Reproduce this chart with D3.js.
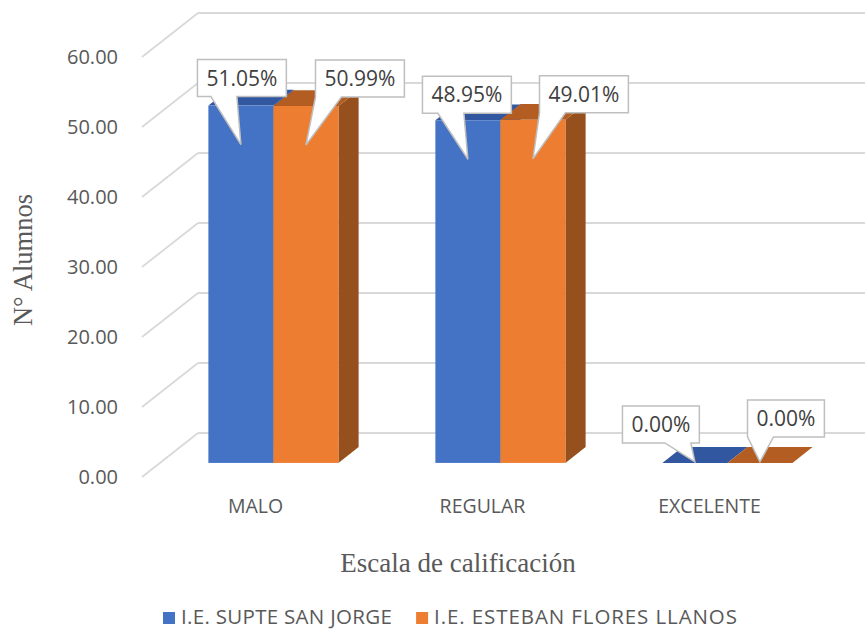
<!DOCTYPE html>
<html>
<head>
<meta charset="utf-8">
<script src="https://cdn.jsdelivr.net/npm/d3@7"></script>
<style>
  body { margin: 0; background: #fff; }
</style>
</head>
<body>
<script>
'use strict';

// chart data
const categories = ["MALO", "REGULAR", "EXCELENTE"];
const seriesNames = ["I.E. SUPTE SAN JORGE", "I.E. ESTEBAN FLORES LLANOS"];
const sanJorge = [51.05, 48.95, 0.00];
const floresLlanos = [50.99, 49.01, 0.00];
const yTicks = [0, 10, 20, 30, 40, 50, 60];

(function() {
  const width = 865, height = 630;
  const frontColor = ["#4472C4", "#ED7D31"];
  const topColor = ["#3157A0", "#B35D22"];
  const sideColor = ["#2E4F8C", "#96501D"];

  // 3d look: the back wall is shifted by this vector
  const DX = 56, DY = -44;
  const f0 = 0.32, f1 = 0.68;   // bar depth inside the floor

  const svg = d3.select("body").append("svg")
    .attr("width", width)
    .attr("height", height);

  svg.append("rect").attr("width", width).attr("height", height).attr("fill", "#fff");

  const y = d3.scaleLinear().domain([0, 60]).range([477, 57]);
  const x0 = d3.scaleBand().domain(categories).range([142, 823]);
  const groupW = x0.bandwidth() * 0.573;
  const x1 = d3.scaleBand().domain(d3.range(seriesNames.length)).range([0, groupW]);

  // gridlines (side wall + back wall)
  const grid = svg.append("g");
  yTicks.forEach(t => {
    grid.append("line")
      .attr("x1", 142).attr("y1", y(t))
      .attr("x2", 142 + DX).attr("y2", y(t) + DY)
      .attr("stroke", "#d9d9d9").attr("stroke-width", 1.8);
    grid.append("line")
      .attr("x1", 142 + DX).attr("y1", y(t) + DY)
      .attr("x2", width + 20).attr("y2", y(t) + DY)
      .attr("stroke", "#d9d9d9").attr("stroke-width", 1.8);
  });

  // y tick labels
  svg.append("g").selectAll("text")
    .data(yTicks)
    .enter().append("text")
      .attr("x", 118)
      .attr("y", d => y(d))
      .attr("dy", "0.36em")
      .attr("text-anchor", "end")
      .attr("font-family", "'Open Sans', sans-serif")
      .attr("font-size", "20px")
      .attr("fill", "#595959")
      .text(d => d3.format(".2f")(d));

  // bars
  const series = [sanJorge, floresLlanos];
  const pt = (px, py, f) => [px + DX * f, py + DY * f];
  const bars = svg.append("g");
  const tips = [];

  categories.forEach((c, ci) => {
    series.forEach((vals, si) => {
      const v = vals[ci];
      const xl = x0(c) + x0.bandwidth() / 2 - groupW / 2 + x1(si);
      const xr = xl + x1.bandwidth();
      const yt = y(v), yb = y(0);

      const side = [pt(xr, yt, f0), pt(xr, yb, f0), pt(xr, yb, f1), pt(xr, yt, f1)];
      const top = [pt(xl, yt, f0), pt(xr, yt, f0), pt(xr, yt, f1), pt(xl, yt, f1)];

      bars.append("polygon")
        .attr("points", side.map(p => p.join(",")).join(" "))
        .attr("fill", sideColor[si]);
      bars.append("polygon")
        .attr("points", top.map(p => p.join(",")).join(" "))
        .attr("fill", topColor[si]);
      const fl = pt(xl, yt, f0);
      bars.append("rect")
        .attr("x", fl[0])
        .attr("y", fl[1])
        .attr("width", xr - xl)
        .attr("height", yb - yt)
        .attr("fill", frontColor[si]);

      const cx = fl[0] + (xr - xl) / 2;
      const frontTop = fl[1];
      const frontBase = yb + DY * f0;
      tips.push({ci: ci, si: si, v: v, x: cx, y: Math.min(frontTop + 39, frontBase - 1)});
    });
  });

  // callout placement (box centre relative to tip, box bottom relative to tip)
  const calloutOffset = [
    [{dx: 1, dy: -48}, {dx: 54, dy: -48}],
    [{dx: -1, dy: -46}, {dx: 51, dy: -46}],
    [{dx: -34, dy: -19}, {dx: 26, dy: -25}]
  ];

  const labels = svg.append("g");
  tips.forEach(tp => {
    const off = calloutOffset[tp.ci][tp.si];
    const g = labels.append("g");
    const path = g.append("path");
    const txt = g.append("text")
      .attr("font-family", "'Open Sans', sans-serif")
      .attr("font-size", "21px")
      .attr("fill", "#404040")
      .attr("text-anchor", "middle")
      .text(d3.format(".2f")(tp.v) + "%");
    const tw = txt.node().getComputedTextLength();
    const bw = tw + 18, bh = 37;
    const cx = tp.x + off.dx;
    const bottom = tp.y + off.dy;
    const left = cx - bw / 2, right = cx + bw / 2, topY = bottom - bh;
    const baseW = 26;
    let bl = Math.max(left, Math.min(tp.x - baseW - 4, right - baseW));
    const br = bl + baseW;
    path.attr("d",
        "M" + left + "," + topY +
        "H" + right + "V" + bottom +
        "H" + br + "L" + tp.x + "," + tp.y +
        "L" + bl + "," + bottom + "H" + left + "Z")
      .attr("fill", "#fff")
      .attr("stroke", "#bfbfbf")
      .attr("stroke-width", 1.5);
    txt.attr("x", cx).attr("y", topY + bh / 2).attr("dy", "0.36em");
  });

  // category labels
  svg.append("g").selectAll("text")
    .data(categories)
    .enter().append("text")
      .attr("x", d => x0(d) + x0.bandwidth() / 2)
      .attr("y", 506)
      .attr("dy", "0.36em")
      .attr("text-anchor", "middle")
      .attr("font-family", "'Open Sans', sans-serif")
      .attr("font-size", "19.5px")
      .attr("fill", "#595959")
      .text(d => d);

  // axis titles
  svg.append("text")
    .attr("transform", "translate(32,260) rotate(-90)")
    .attr("text-anchor", "middle")
    .attr("font-family", "'Liberation Serif', serif")
    .attr("font-size", "26.5px")
    .attr("fill", "#595959")
    .text("N° Alumnos");

  svg.append("text")
    .attr("x", 458)
    .attr("y", 572)
    .attr("text-anchor", "middle")
    .attr("font-family", "'Liberation Serif', serif")
    .attr("font-size", "27px")
    .attr("fill", "#595959")
    .text("Escala de calificación");

  // legend
  const legend = svg.append("g");
  let lx = 163;
  seriesNames.forEach((name, i) => {
    legend.append("rect")
      .attr("x", lx).attr("y", 612)
      .attr("width", 12).attr("height", 12)
      .attr("fill", frontColor[i]);
    const t = legend.append("text")
      .attr("x", lx + 18).attr("y", 617)
      .attr("dy", "0.36em")
      .attr("font-family", "'Open Sans', sans-serif")
      .attr("font-size", "20.5px")
      .attr("letter-spacing", i === 0 ? "0.3px" : "0.9px")
      .attr("fill", "#595959")
      .text(name);
    lx += 18 + t.node().getComputedTextLength() + 24;
  });
})();
</script>
</body>
</html>
